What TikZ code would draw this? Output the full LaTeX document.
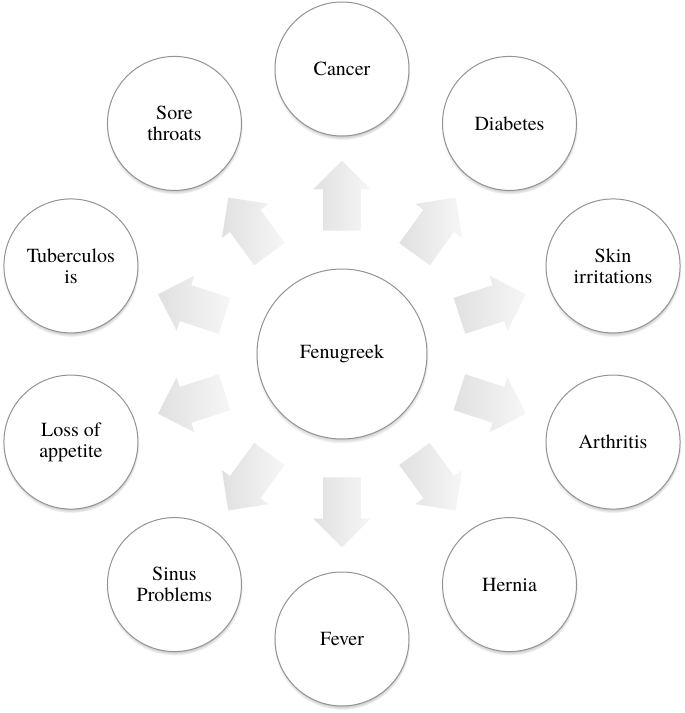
\documentclass[tikz,border=0pt]{standalone}
\usepackage{fontspec}
\newfontfamily\labelfont{texgyretermes}[Extension=.otf, UprightFont=*-regular]
\usetikzlibrary{positioning,shapes.arrows,shadows}

\begin{document}
\begin{tikzpicture}[
  x=0.5pt, y=0.5pt,
  hub/.style={circle, draw=gray!85, line width=0.5pt, fill=white, minimum size=85pt, inner sep=0pt, font=\labelfont\fontsize{10}{10.5}\selectfont, align=center,
    circular drop shadow={shadow xshift=0pt, shadow yshift=-1.3pt, shadow scale=1.02}},
  leaf/.style={hub, minimum size=67pt},
  push/.style={single arrow, single arrow head extend=5pt, minimum height=35pt, inner xsep=0pt, inner ysep=9.25pt, text height=0pt, text depth=0pt,
    left color=gray!24, right color=gray!7, draw=none},
]
\useasboundingbox (-342,-359) rectangle (343,354);
\node[hub] (fenugreek) at (0,0) {Fenugreek};
\node[leaf] (cancer) at (90:285) {Cancer};
\node[leaf] (diabetes) at (54:285) {Diabetes};
\node[leaf] (skin) at (18:285) {Skin\\irritations};
\node[leaf] (arthritis) at (-18:285) {Arthritis};
\node[leaf] (hernia) at (-54:285) {Hernia};
\node[leaf] (fever) at (-90:285) {Fever};
\node[leaf] (sinus) at (-126:285) {Sinus\\Problems};
\node[leaf] (appetite) at (-162:285) {Loss of\\appetite};
\node[leaf] (tb) at (162:285) {Tuberculos\\is};
\node[leaf] (throat) at (126:285) {Sore\\throats};
\foreach \a in {90,54,18,-18,-54,-90,-126,-162,162,126}
  \node[push, rotate=\a] (push\a) at (\a:149) {};
\end{tikzpicture}
\end{document}
